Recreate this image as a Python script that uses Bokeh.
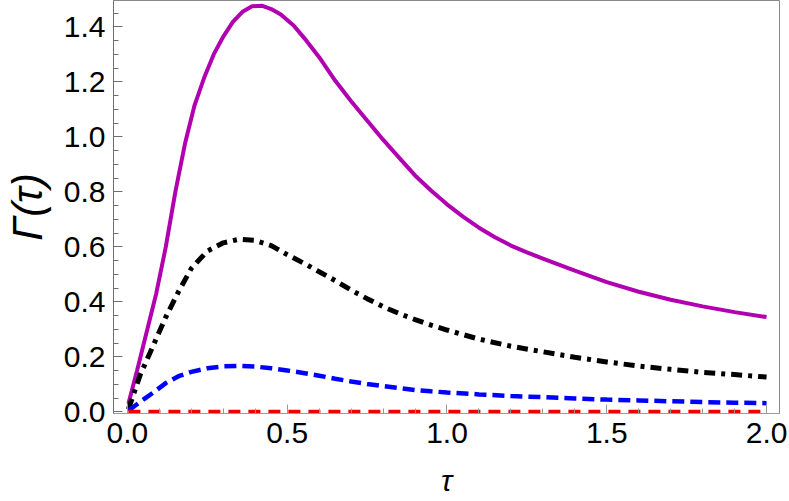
from bokeh.plotting import figure
from bokeh.embed import file_html
from bokeh.resources import INLINE
from bokeh.models import SingleIntervalTicker, PrintfTickFormatter

# --- data ---
tau_magenta = [0.003, 0.03, 0.06, 0.09, 0.12, 0.15, 0.18, 0.21, 0.24, 0.27, 0.30, 0.33, 0.36,
               0.39, 0.42, 0.45, 0.48, 0.52, 0.56, 0.60, 0.65, 0.70, 0.75, 0.8, 0.85, 0.9, 0.95,
               1.0, 1.05, 1.1, 1.15, 1.2, 1.25, 1.3, 1.4, 1.5, 1.6, 1.7, 1.8, 1.9, 2.0]
gamma_magenta = [0.03, 0.15, 0.29, 0.43, 0.60, 0.80, 0.975, 1.115, 1.215, 1.30, 1.365, 1.418, 1.455,
                 1.475, 1.477, 1.465, 1.445, 1.405, 1.35, 1.29, 1.205, 1.13, 1.06, 0.99, 0.925, 0.86,
                 0.805, 0.755, 0.71, 0.67, 0.635, 0.605, 0.58, 0.558, 0.514, 0.472, 0.437, 0.408,
                 0.384, 0.363, 0.345]

tau = [0.003, 0.04, 0.08, 0.12, 0.16, 0.2, 0.25, 0.3, 0.35, 0.4, 0.45, 0.5, 0.55,
       0.6, 0.65, 0.7, 0.75, 0.8, 0.85, 0.9, 0.95, 1.0, 1.1, 1.2, 1.3, 1.4, 1.5, 1.6, 1.7,
       1.8, 1.9, 2.0]

gamma_black = [0.01, 0.135, 0.24, 0.345, 0.438, 0.522, 0.585, 0.615, 0.628, 0.624, 0.605, 0.572, 0.542,
               0.51, 0.478, 0.443, 0.412, 0.383, 0.358, 0.336, 0.316, 0.298, 0.265, 0.239, 0.219,
               0.199, 0.182, 0.167, 0.155, 0.144, 0.136, 0.127]

gamma_blue = [0.005, 0.037, 0.07, 0.105, 0.13, 0.146, 0.159, 0.166, 0.168, 0.165, 0.159, 0.151, 0.142,
              0.132, 0.121, 0.111, 0.102, 0.094, 0.087, 0.08, 0.075, 0.071, 0.064, 0.058, 0.054,
              0.049, 0.045, 0.042, 0.039, 0.036, 0.034, 0.032]

gamma_red = [0.0] * len(tau)

x_label = "τ"
y_label = "Γ(τ)"

p = figure(width=789, height=501, x_range=(-0.0436, 2.0405), y_range=(-0.0055, 1.496),
           output_backend="svg", toolbar_location=None,
           min_border_left=110, min_border_right=10, min_border_top=0, min_border_bottom=88)

p.grid.visible = False
p.outline_line_color = "#888888"
p.outline_line_width = 1
p.background_fill_color = "white"
p.border_fill_color = "white"

p.line(tau_magenta, gamma_magenta, line_color="#b000b0", line_width=4)
p.line(tau, gamma_black, line_color="black", line_width=5, line_dash="11 6 4 6")
p.line(tau, gamma_blue, line_color="#0000ff", line_width=4.5, line_dash="12 6")
p.line(tau, gamma_red, line_color="#ee0000", line_width=4.5, line_dash="12 8")

p.xaxis.ticker = SingleIntervalTicker(interval=0.5, num_minor_ticks=5)
p.yaxis.ticker = SingleIntervalTicker(interval=0.2, num_minor_ticks=4)
for ax in (p.xaxis, p.yaxis):
    ax.formatter = PrintfTickFormatter(format="%.1f")
    ax.major_tick_in = 9
    ax.major_tick_out = 0
    ax.minor_tick_in = 5
    ax.minor_tick_out = 0
    ax.major_label_text_font = "Liberation Sans"
    ax.major_label_text_font_size = "30px"
    ax.major_label_text_color = "black"
    ax.axis_label_text_font = "Liberation Sans"
    ax.axis_label_text_font_style = "italic"
    ax.axis_label_text_color = "black"

p.yaxis.axis_line_color = "#6e6e6e"
p.yaxis.major_tick_line_color = "#6e6e6e"
p.yaxis.minor_tick_line_color = "#6e6e6e"
p.xaxis.axis_line_color = "#9a9a9a"
p.xaxis.major_tick_line_color = "#9a9a9a"
p.xaxis.minor_tick_line_color = "#9a9a9a"

p.yaxis.major_label_standoff = 8
p.xaxis.major_label_standoff = 9
p.xaxis.axis_label = x_label
p.yaxis.axis_label = y_label
p.xaxis.axis_label_text_font_size = "30px"
p.yaxis.axis_label_text_font_size = "42px"
p.xaxis.axis_label_standoff = 18
p.yaxis.axis_label_standoff = 10

open("out.html", "w").write(file_html(p, INLINE))
